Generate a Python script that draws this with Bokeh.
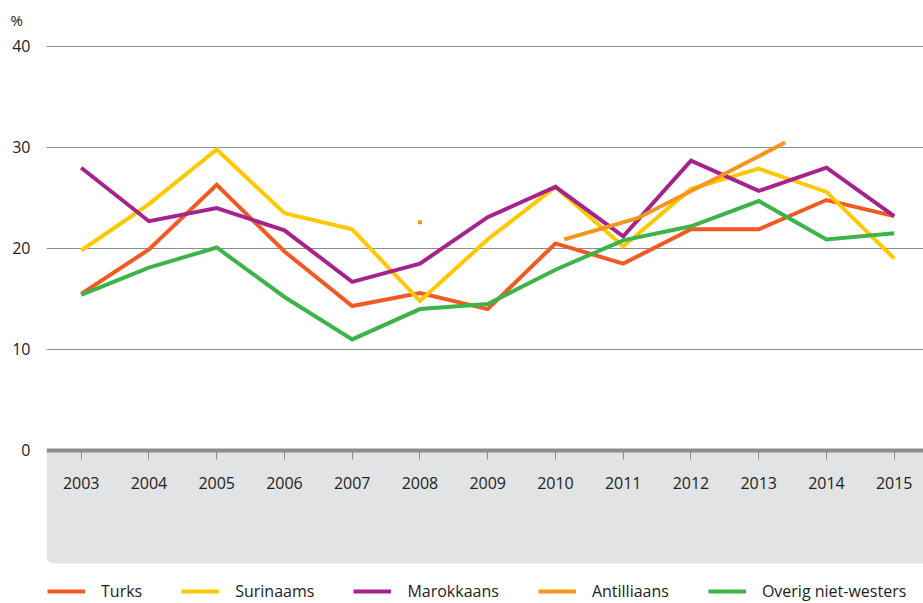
from bokeh.plotting import figure
from bokeh.models import (Range1d, FixedTicker, Legend, LegendItem, Title,
                          BoxAnnotation)
from bokeh.embed import file_html
from bokeh.resources import INLINE

years = [2003, 2004, 2005, 2006, 2007, 2008, 2009, 2010, 2011, 2012, 2013, 2014, 2015]
turks = [15.5, 19.9, 26.3, 19.7, 14.3, 15.6, 14.0, 20.5, 18.5, 21.9, 21.9, 24.8, 23.2]
surinaams = [19.8, 24.4, 29.8, 23.5, 21.9, 14.8, 20.9, 26.1, 20.2, 25.9, 27.9, 25.6, 19.0]
marokkaans = [28.0, 22.7, 24.0, 21.8, 16.7, 18.5, 23.1, 26.1, 21.2, 28.7, 25.7, 28.0, 23.2]
overig = [15.4, 18.1, 20.1, 15.2, 11.0, 14.0, 14.5, 17.9, 20.8, 22.2, 24.7, 20.9, 21.5]
antilliaans_point_year = [2008]
antilliaans_point = [22.6]
antilliaans_years = [2010.13, 2011.21, 2012.30, 2013.39]
antilliaans = [20.9, 23.0, 26.7, 30.5]
y_ticks = [0, 10, 20, 30, 40]
series_names = ["Turks", "Surinaams", "Marokkaans", "Antilliaans", "Overig niet-westers"]
colors = ["#f15a22", "#ffc800", "#a6228d", "#f7941d", "#3db449"]

FONT = "Open Sans"
TXT = "#222222"
GRID = "#8c8c8c"

p = figure(width=923, height=603, output_backend="svg", toolbar_location=None,
           x_range=Range1d(2002.488, 2015.432), y_range=Range1d(-15.15, 40.99),
           min_border_left=46, min_border_right=0, min_border_top=36,
           min_border_bottom=0)
p.outline_line_color = None
p.background_fill_color = "white"
p.border_fill_color = "white"

p.add_layout(Title(text="%", align="left", offset=-36, text_font=FONT,
                   text_font_size="15px", text_font_style="normal",
                   text_color=TXT, standoff=13), "above")

# grey panel under the axis
p.add_layout(BoxAnnotation(top=0, bottom=-11.19, fill_color="#e2e3e5",
                           fill_alpha=1, line_color=None, level="underlay",
                           border_radius=dict(top_left=0, top_right=0,
                                              bottom_right=0, bottom_left=8)))

# axes
p.xaxis.ticker = FixedTicker(ticks=years)
p.xaxis.fixed_location = 0
p.xaxis.axis_line_color = GRID
p.xaxis.axis_line_width = 4
p.xaxis.major_tick_out = 9
p.xaxis.major_tick_in = 0
p.xaxis.major_tick_line_color = GRID
p.xaxis.major_tick_line_width = 1
p.xaxis.minor_tick_line_color = None
p.xaxis.major_label_standoff = 18
p.xaxis.major_label_text_font = FONT
p.xaxis.major_label_text_font_size = "16px"
p.xaxis.major_label_text_color = TXT

p.yaxis.ticker = FixedTicker(ticks=y_ticks)
p.yaxis.axis_line_color = None
p.yaxis.major_tick_line_color = None
p.yaxis.minor_tick_line_color = None
p.yaxis.major_label_standoff = 10
p.yaxis.major_label_text_font = FONT
p.yaxis.major_label_text_font_size = "16px"
p.yaxis.major_label_text_color = TXT

p.xgrid.grid_line_color = None
p.ygrid.ticker = FixedTicker(ticks=[10, 20, 30, 40])
p.ygrid.grid_line_color = GRID
p.ygrid.grid_line_width = 1.2

lw = 4
r_t = p.line(years, turks, line_color=colors[0], line_width=lw, line_join="miter")
r_s = p.line(years, surinaams, line_color=colors[1], line_width=lw, line_join="miter")
r_m = p.line(years, marokkaans, line_color=colors[2], line_width=lw, line_join="miter")
r_o = p.line(years, overig, line_color=colors[4], line_width=lw, line_join="miter")
r_a = p.line(antilliaans_years, antilliaans, line_color=colors[3], line_width=lw,
             line_join="miter")
p.scatter(antilliaans_point_year, antilliaans_point, marker="square", size=4,
          fill_color=colors[3], line_color=None)

legend = Legend(items=[LegendItem(label=n, renderers=[r]) for n, r in
                       zip(series_names, [r_t, r_s, r_m, r_a, r_o])],
                orientation="horizontal", location="bottom_left",
                spacing=39, glyph_width=38, glyph_height=16, label_height=16,
                label_standoff=16, padding=0, margin=1,
                background_fill_alpha=0, border_line_alpha=0,
                label_text_font=FONT, label_text_font_size="16px",
                label_text_color=TXT)
p.add_layout(legend)

open("out.html", "w").write(file_html(p, INLINE))
